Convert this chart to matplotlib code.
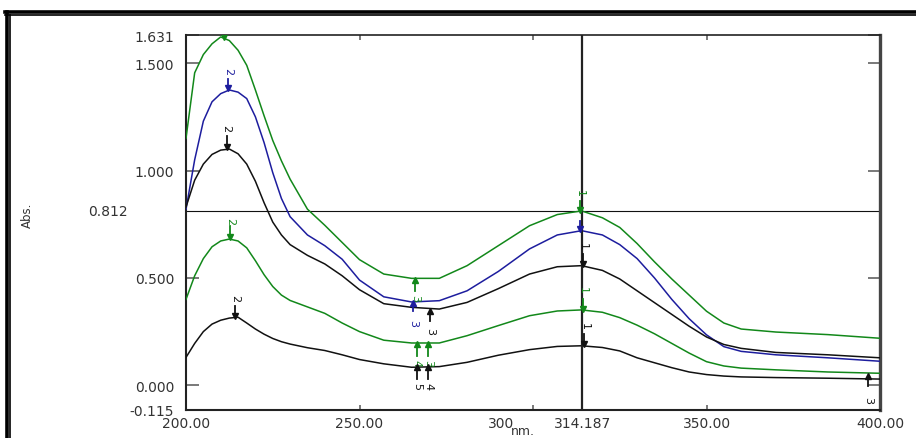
#!/usr/bin/env python3
"""
UV-Vis absorbance overlay (5 scans) with peak/valley pick markers
and the instrument cursor at 314.187 nm / 0.812 Abs.
"""

import matplotlib
matplotlib.use("Agg")
import matplotlib.pyplot as plt
from matplotlib.lines import Line2D
from matplotlib.transforms import blended_transform_factory, ScaledTranslation

# --- spectra -------------------------------------------------------------
wavelength = [200, 202.5, 205, 207.5, 210, 212.5, 215, 217.5, 220, 222.5,
              225, 227.5, 230, 235, 240, 245, 250, 257, 265, 273,
              281, 290, 299, 307, 314, 320, 325, 330, 335, 340,
              345, 350, 355, 360, 370, 385, 400]

abs_green_top = [1.15, 1.455, 1.54, 1.59, 1.622, 1.605, 1.56, 1.49, 1.375, 1.255,
                 1.14, 1.045, 0.96, 0.82, 0.745, 0.665, 0.585, 0.518, 0.498, 0.498,
                 0.557, 0.65, 0.743, 0.795, 0.812, 0.78, 0.735, 0.66, 0.575, 0.495,
                 0.42, 0.345, 0.29, 0.262, 0.248, 0.236, 0.219]

abs_blue = [0.82, 1.05, 1.23, 1.32, 1.358, 1.375, 1.365, 1.335, 1.25, 1.13,
            0.99, 0.87, 0.785, 0.70, 0.65, 0.587, 0.49, 0.412, 0.388, 0.394,
            0.44, 0.53, 0.635, 0.70, 0.72, 0.70, 0.655, 0.59, 0.50, 0.40,
            0.31, 0.235, 0.18, 0.158, 0.142, 0.128, 0.112]

abs_black_top = [0.83, 0.955, 1.03, 1.075, 1.095, 1.10, 1.078, 1.03, 0.95, 0.85,
                 0.76, 0.70, 0.655, 0.605, 0.565, 0.51, 0.445, 0.38, 0.363, 0.355,
                 0.386, 0.45, 0.518, 0.552, 0.557, 0.535, 0.495, 0.44, 0.385, 0.33,
                 0.275, 0.225, 0.19, 0.172, 0.153, 0.142, 0.128]

abs_green_low = [0.40, 0.51, 0.59, 0.645, 0.672, 0.681, 0.672, 0.64, 0.58, 0.515,
                 0.46, 0.42, 0.395, 0.365, 0.335, 0.29, 0.25, 0.21, 0.197, 0.197,
                 0.231, 0.278, 0.324, 0.346, 0.351, 0.34, 0.315, 0.28, 0.24, 0.195,
                 0.15, 0.11, 0.09, 0.08, 0.072, 0.062, 0.056]

abs_black_low = [0.13, 0.195, 0.25, 0.285, 0.303, 0.313, 0.317, 0.29, 0.262, 0.238,
                 0.218, 0.203, 0.192, 0.175, 0.162, 0.142, 0.12, 0.1, 0.084, 0.087,
                 0.107, 0.14, 0.166, 0.181, 0.184, 0.176, 0.16, 0.128, 0.105, 0.082,
                 0.062, 0.05, 0.043, 0.039, 0.036, 0.033, 0.029]

series = [abs_green_top, abs_blue, abs_black_top, abs_green_low, abs_black_low]
series_color = ["g", "b", "k", "g", "k"]

# --- peak pick marks: position, arrow tip, arrow tail, label, label y ------
mark_wl = [211.0, 212.2, 211.7, 212.7, 214.1,
           313.6, 313.6, 314.5, 314.5, 314.8,
           266.0, 265.5, 270.3, 266.5, 269.8, 266.5, 269.8, 396.6]
mark_tip = [1.622, 1.385, 1.11, 0.69, 0.324,
            0.815, 0.727, 0.565, 0.355, 0.19,
            0.49, 0.383, 0.348, 0.19, 0.19, 0.083, 0.083, 0.045]
mark_tail = [1.631, 1.426, 1.16, 0.74, 0.37,
             0.86, 0.765, 0.61, 0.40, 0.24,
             0.44, 0.346, 0.301, 0.138, 0.138, 0.03, 0.03, -0.002]
mark_label = ["", "2", "2", "2", "2",
              "1", "", "1", "1", "1",
              "3", "3", "3", "4", "3", "5", "4", "3"]
mark_label_y = [1.7, 1.465, 1.20, 0.766, 0.41,
                0.90, 0.80, 0.653, 0.448, 0.278,
                0.41, 0.293, 0.254, 0.107, 0.107, -0.003, -0.003, -0.064]
mark_color = ["g", "b", "k", "g", "k",
              "g", "b", "k", "g", "k",
              "g", "b", "k", "g", "g", "k", "k", "k"]

# axis / cursor
x_ticks = [200, 250, 300, 314.187, 350, 400]
x_tick_labels = ["200.00", "250.00", "300", "314.187", "350.00", "400.00"]
y_ticks = [-0.115, 0.0, 0.5, 1.0, 1.5, 1.631]
cursor_wl = 314.187
cursor_abs = 0.812

COLORS = {"g": "#12881a", "b": "#1d1d9e", "k": "#111111"}
TEXT = "#333333"
W, H = 916, 439


def fx(px):
    return px / W


def fy(py):
    return 1 - py / H


def draw_frame(fig):
    """Double-line instrument frame along top and left edges."""
    for lw, off in [(2.6, 6.5), (1.2, 10)]:
        fig.add_artist(Line2D([fx(off), fx(off)], [fy(off + 6), 0],
                              transform=fig.transFigure, color="black", lw=lw))
    for lw, off in [(2.6, 13), (1.2, 16.3)]:
        fig.add_artist(Line2D([fx(5), 1], [fy(off), fy(off)],
                              transform=fig.transFigure, color="black", lw=lw))


def main():
    fig = plt.figure(figsize=(W / 100, H / 100), dpi=100)
    ax = fig.add_axes([fx(186), fy(411), fx(880) - fx(186), fy(36) - fy(411)])
    draw_frame(fig)

    for vals, c in zip(series, series_color):
        ax.plot(wavelength, vals, color=COLORS[c], lw=1.1, zorder=3)

    # cursor cross-hair
    ax.axvline(cursor_wl, color="#222222", lw=1.6, zorder=4)
    ax.axhline(cursor_abs, color="#111111", lw=0.8, zorder=2)

    # pick marks
    for wl, tip, tail, lab, ly, c in zip(mark_wl, mark_tip, mark_tail,
                                          mark_label, mark_label_y, mark_color):
        col = COLORS[c]
        ax.plot([wl, wl], [tail, tip], color=col, lw=1.3, zorder=5)
        ax.plot(wl, tip, marker="v" if tail > tip else "^", ms=4,
                color=col, zorder=5)
        if lab:
            ax.text(wl, ly, lab, rotation=270, ha="center", va="center",
                    fontsize=8, color=col, zorder=5)

    ax.set_xlim(200, 400)
    ax.set_ylim(-0.115, 1.631)

    ax.set_xticks(x_ticks)
    ax.set_xticklabels(x_tick_labels)
    ax.set_yticks(y_ticks)
    ax.set_yticklabels([f"{v:.3f}" for v in y_ticks])

    ax.tick_params(axis="y", direction="in", length=9, width=1.1, pad=8.5,
                   left=True, right=True, colors="#555555", labelcolor=TEXT,
                   labelsize=10)
    ax.tick_params(axis="x", direction="in", length=3.6, width=1.1, pad=4,
                   bottom=True, top=True, colors="#555555", labelcolor=TEXT,
                   labelsize=10)

    # "300" sits left of its tick so it clears the cursor label
    for lab in ax.get_xticklabels():
        if lab.get_text() == "300":
            lab.set_horizontalalignment("right")
            lab.set_transform(lab.get_transform() +
                              ScaledTranslation(-0.19, 0, fig.dpi_scale_trans))

    # cursor absorbance value on the left margin
    trans = blended_transform_factory(ax.transAxes, ax.transData)
    ax.text((128 - 186) / 694, cursor_abs, f"{cursor_abs:.3f}", transform=trans,
            ha="right", va="center", fontsize=10, color=TEXT)

    for side, lw in [("left", 1.5), ("bottom", 1.5), ("top", 1.2), ("right", 2.4)]:
        ax.spines[side].set_linewidth(lw)
        ax.spines[side].set_color("#222222" if side != "right" else "#444444")

    fig.text(fx(523), fy(438), "nm.", ha="center", va="bottom", fontsize=9,
             color=TEXT)
    fig.text(fx(27), fy(215), "Abs.", ha="center", va="center", rotation=90,
             fontsize=8.5, color=TEXT)

    fig.savefig("out.png", dpi=100)


if __name__ == "__main__":
    main()
